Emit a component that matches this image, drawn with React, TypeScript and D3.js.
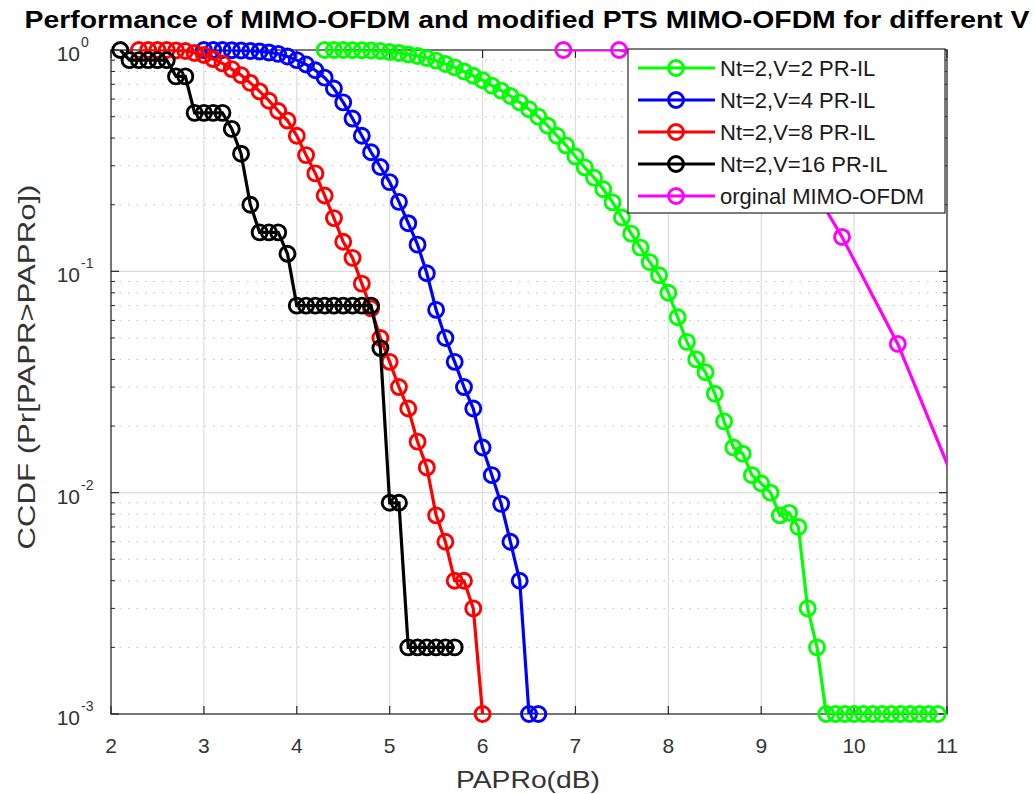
import React from "react";
import * as d3 from "d3";

// ---- data (CCDF vs PAPRo, x step 0.1 dB) ----
const greenStart = 4.3;
const greenCCDF = [1.0, 1.0, 1.0, 0.999, 0.998, 0.995, 0.99, 0.98, 0.97, 0.955, 0.94, 0.92, 0.895, 0.865, 0.835, 0.8, 0.765, 0.73, 0.69, 0.655, 0.62, 0.58, 0.54, 0.5, 0.455, 0.41, 0.37, 0.33, 0.295, 0.265, 0.235, 0.205, 0.175, 0.148, 0.128, 0.11, 0.096, 0.08, 0.062, 0.048, 0.04, 0.035, 0.028, 0.021, 0.016, 0.015, 0.012, 0.011, 0.01, 0.0079, 0.0081, 0.007, 0.003, 0.002, 0.001, 0.001, 0.001, 0.001, 0.001, 0.001, 0.001, 0.001, 0.001, 0.001, 0.001, 0.001, 0.001];

const blueStart = 3.0;
const blueCCDF = [1.0, 1.0, 1.0, 0.998, 0.995, 0.99, 0.985, 0.975, 0.96, 0.935, 0.9, 0.86, 0.81, 0.75, 0.67, 0.58, 0.49, 0.41, 0.345, 0.296, 0.253, 0.206, 0.165, 0.132, 0.098, 0.067, 0.05, 0.039, 0.03, 0.024, 0.016, 0.012, 0.0089, 0.006, 0.004, 0.001, 0.001];

const redStart = 2.3;
const redCCDF = [1.0, 1.0, 1.0, 1.0, 0.995, 0.99, 0.97, 0.95, 0.91, 0.87, 0.82, 0.77, 0.71, 0.65, 0.59, 0.53, 0.48, 0.41, 0.335, 0.277, 0.22, 0.174, 0.136, 0.115, 0.088, 0.068, 0.05, 0.039, 0.03, 0.024, 0.017, 0.013, 0.0079, 0.006, 0.004, 0.004, 0.003, 0.001];

const blackStart = 2.1;
const blackCCDF = [1.0, 0.9, 0.9, 0.9, 0.9, 0.9, 0.76, 0.76, 0.52, 0.52, 0.52, 0.52, 0.44, 0.34, 0.2, 0.15, 0.15, 0.15, 0.12, 0.07, 0.07, 0.07, 0.07, 0.07, 0.07, 0.07, 0.07, 0.07, 0.045, 0.009, 0.009, 0.002, 0.002, 0.002, 0.002, 0.002, 0.002];

const origX = [6.87, 7.47, 8.07, 8.67, 9.27, 9.87, 10.47, 11.07];
const origCCDF = [1.0, 1.0, 0.88, 0.7, 0.38, 0.143, 0.047, 0.0115];

const xTicks = [2, 3, 4, 5, 6, 7, 8, 9, 10, 11];
const yTickExps = [0, -1, -2, -3];

const seriesNames = ["Nt=2,V=2 PR-IL", "Nt=2,V=4 PR-IL", "Nt=2,V=8 PR-IL", "Nt=2,V=16 PR-IL", "orginal MIMO-OFDM"];
const seriesColors = ["#00ff00", "#0000ff", "#ff0000", "#000000", "#ff00ff"];

const titleText = "Performance of MIMO-OFDM and modified PTS MIMO-OFDM for different V";
const xLabelText = "PAPRo(dB)";
const yLabelText = "CCDF (Pr[PAPR>PAPRo])";

function stepped(start: number, ys: number[]) {
  return ys.map((y, i) => ({ x: Math.round((start + i * 0.1) * 100) / 100, y }));
}

export default function App() {
  const W = 1035, H = 794;
  const L = 111, R = 947, T = 50, B = 714;
  const x = d3.scaleLinear().domain([2, 11]).range([L, R]);
  const y = d3.scaleLog().domain([1e-3, 1]).range([B, T]);
  const font = "'Liberation Sans', Arial, Helvetica, sans-serif";
  const axisCol = "#262626";
  const labCol = "#333333";

  const series = [
    stepped(greenStart, greenCCDF),
    stepped(blueStart, blueCCDF),
    stepped(redStart, redCCDF),
    stepped(blackStart, blackCCDF),
    origX.map((v, i) => ({ x: v, y: origCCDF[i] })),
  ];
  const line = d3.line<{ x: number; y: number }>().x(d => x(d.x)).y(d => y(d.y));

  const minorVals: number[] = [];
  for (let e = -3; e < 0; e++) for (let m = 2; m <= 9; m++) minorVals.push(m * Math.pow(10, e));

  const legX = 628, legY = 49, legW = 317, legH = 164;
  const legRows = [68, 100, 132, 164, 196];

  return (
    <svg width={W} height={H} style={{ position: "absolute", left: 0, top: 0, background: "#fff" }} fontFamily={font}>
      <defs>
        <clipPath id="plotclip">
          <rect x={L} y={T} width={R - L} height={B - T} />
        </clipPath>
      </defs>
      <rect x={0} y={0} width={W} height={H} fill="#fff" />
      {/* minor grid */}
      {minorVals.map((v, i) => (
        <line key={"mg" + i} x1={L} x2={R} y1={y(v)} y2={y(v)} stroke="#9a9a9a" strokeWidth={1} strokeDasharray="1.5,7" opacity={0.6} />
      ))}
      {/* major grid */}
      {xTicks.map(t => (
        <line key={"gx" + t} x1={x(t)} x2={x(t)} y1={T} y2={B} stroke="#dcdcdc" strokeWidth={1.2} />
      ))}
      {yTickExps.map(e => (
        <line key={"gy" + e} x1={L} x2={R} y1={y(Math.pow(10, e))} y2={y(Math.pow(10, e))} stroke="#dcdcdc" strokeWidth={1.2} />
      ))}
      {/* axes box */}
      <rect x={L} y={T} width={R - L} height={B - T} fill="none" stroke={axisCol} strokeWidth={1.2} />
      {/* ticks */}
      {xTicks.map(t => (
        <g key={"tx" + t}>
          <line x1={x(t)} x2={x(t)} y1={B} y2={B - 8} stroke={axisCol} strokeWidth={1.2} />
          <line x1={x(t)} x2={x(t)} y1={T} y2={T + 8} stroke={axisCol} strokeWidth={1.2} />
          <text x={x(t)} y={753} textAnchor="middle" fontSize={21} fill={labCol}>{t}</text>
        </g>
      ))}
      {yTickExps.map(e => {
        const yy = y(Math.pow(10, e));
        return (
          <g key={"ty" + e}>
            <line x1={L} x2={L + 8} y1={yy} y2={yy} stroke={axisCol} strokeWidth={1.2} />
            <line x1={R} x2={R - 8} y1={yy} y2={yy} stroke={axisCol} strokeWidth={1.2} />
            <text x={80} y={yy + 11} textAnchor="end" fontSize={21} fill={labCol}>10</text>
            <text x={81} y={yy - 3} textAnchor="start" fontSize={14} fill={labCol}>{e}</text>
          </g>
        );
      })}
      {minorVals.map((v, i) => (
        <g key={"mt" + i}>
          <line x1={L} x2={L + 4} y1={y(v)} y2={y(v)} stroke={axisCol} strokeWidth={1} />
          <line x1={R} x2={R - 4} y1={y(v)} y2={y(v)} stroke={axisCol} strokeWidth={1} />
        </g>
      ))}
      {/* series */}
      {series.map((s, si) => (
        <g key={"s" + si}>
          <path d={line(s) || ""} fill="none" stroke={seriesColors[si]} strokeWidth={3.2} clipPath="url(#plotclip)" />
          {s.filter(d => d.x >= 2 && d.x <= 11).map((d, i) => (
            <circle key={i} cx={x(d.x)} cy={y(d.y)} r={7.5} fill="none" stroke={seriesColors[si]} strokeWidth={2.9} />
          ))}
        </g>
      ))}
      {/* legend */}
      <rect x={legX} y={legY} width={legW} height={legH} fill="#fff" stroke={axisCol} strokeWidth={1.2} />
      {seriesNames.map((n, i) => (
        <g key={"lg" + i}>
          <line x1={638} x2={715} y1={legRows[i]} y2={legRows[i]} stroke={seriesColors[i]} strokeWidth={3.2} />
          <circle cx={676} cy={legRows[i]} r={7.5} fill="none" stroke={seriesColors[i]} strokeWidth={2.9} />
          <text x={720} y={legRows[i] + 8} fontSize={22} fill="#1a1a1a">{n}</text>
        </g>
      ))}
      {/* labels */}
      <text x={527} y={28} textAnchor="middle" fontSize={24} fontWeight="bold" fill="#000" textLength={1005} lengthAdjust="spacingAndGlyphs">{titleText}</text>
      <text x={528} y={788} textAnchor="middle" fontSize={24} fill={labCol} textLength={144} lengthAdjust="spacingAndGlyphs">{xLabelText}</text>
      <text transform={`translate(35,367) rotate(-90)`} textAnchor="middle" fontSize={24} fill={labCol} textLength={365} lengthAdjust="spacingAndGlyphs">{yLabelText}</text>
    </svg>
  );
}
